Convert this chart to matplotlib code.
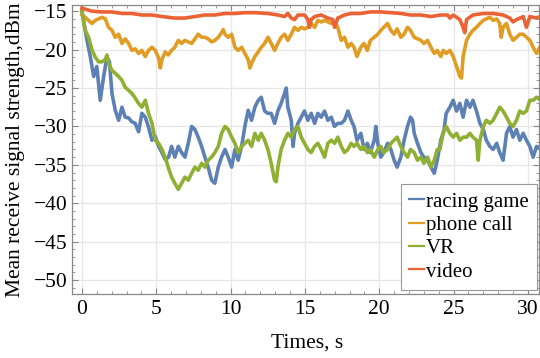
import numpy as np
import matplotlib
matplotlib.use('Agg')
import matplotlib.pyplot as plt
from matplotlib.ticker import MultipleLocator

plt.rcParams['font.family'] = ['Liberation Serif', 'DejaVu Serif']

# values (time in s, level in dBm)
racing_t = [0, 0.1, 0.34, 0.56, 0.79, 1.0, 1.23, 1.46, 1.68, 1.85, 2.02, 2.24, 2.47, 2.69, 2.91, 3.14, 3.36, 3.58, 3.81, 4.03,
            4.26, 4.48, 4.71, 4.93, 5.16, 5.38, 5.6, 5.83, 6.03, 6.25, 6.48, 6.7, 6.93, 7.15, 7.38, 7.6, 7.82, 8.05, 8.27, 8.49,
            8.72, 8.94, 9.17, 9.39, 9.62, 9.84, 10.07, 10.29, 10.51, 10.74, 10.96, 11.18, 11.41, 11.63, 11.86, 12.06, 12.29, 12.51, 12.73, 12.96,
            13.18, 13.4, 13.63, 13.74, 13.85, 14.08, 14.2, 14.3, 14.53, 14.75, 14.97, 15.2, 15.42, 15.65, 15.87, 16.09, 16.32, 16.54, 16.77, 16.99,
            17.21, 17.44, 17.66, 17.89, 18.11, 18.3, 18.5, 18.76, 18.98, 19.2, 19.4, 19.66, 19.77, 19.9, 20.1, 20.3, 20.56, 20.78, 21.0, 21.2,
            21.45, 21.67, 21.9, 22.1, 22.24, 22.35, 22.57, 22.8, 23.0, 23.25, 23.47, 23.7, 23.9, 24.14, 24.36, 24.5, 24.75, 24.97, 25.2, 25.42,
            25.64, 25.87, 26.1, 26.3, 26.54, 26.77, 27.0, 27.2, 27.44, 27.66, 27.9, 28.1, 28.33, 28.56, 28.78, 29.0, 29.23, 29.45, 29.68, 29.9,
            30.13, 30.35, 30.58, 30.8]
racing = [-15.0, -16.2, -18.8, -20.9, -23.5, -22.2, -26.6, -23.5, -21.0, -21.6, -25.7, -27.9, -29.2, -27.5, -28.8, -28.9, -29.4, -29.6, -30.7, -28.3,
          -28.8, -30.1, -31.8, -31.3, -32.6, -33.4, -34.3, -34.0, -32.6, -34.0, -32.6, -33.4, -34.0, -32.2, -30.0, -30.4, -31.4, -32.6, -34.0, -35.3,
          -37.0, -37.4, -35.3, -34.0, -33.0, -34.0, -35.3, -33.0, -34.4, -32.6, -30.0, -27.9, -29.2, -27.5, -26.6, -26.2, -28.0, -28.3, -28.3, -29.6,
          -28.0, -27.0, -25.7, -25.0, -27.5, -29.2, -32.6, -30.9, -29.6, -28.8, -28.0, -29.2, -28.3, -29.6, -28.3, -28.8, -28.0, -29.2, -28.8, -30.0,
          -29.6, -29.6, -29.2, -28.0, -29.2, -30.0, -31.8, -30.9, -33.0, -32.2, -33.4, -31.8, -30.0, -32.2, -34.0, -33.4, -32.2, -33.0, -34.4, -35.3,
          -34.0, -31.8, -30.0, -28.8, -29.2, -30.9, -32.2, -33.4, -34.0, -34.4, -35.3, -36.1, -34.4, -31.8, -30.4, -28.3, -27.5, -26.6, -28.0, -27.0,
          -28.8, -26.6, -27.5, -26.6, -28.0, -29.6, -30.4, -31.8, -32.6, -33.0, -32.2, -33.4, -34.4, -30.9, -30.0, -31.4, -30.4, -31.8, -30.9, -31.8,
          -32.6, -34.0, -32.6, -32.8]

phone_t = [0, 0.22, 0.45, 0.67, 0.9, 1.12, 1.34, 1.57, 1.79, 2.02, 2.24, 2.47, 2.69, 2.91, 3.14, 3.36, 3.58, 3.81, 4.03, 4.26,
           4.48, 4.71, 4.93, 5.16, 5.27, 5.38, 5.6, 5.8, 6.03, 6.25, 6.48, 6.7, 6.93, 7.15, 7.38, 7.6, 7.82, 8.05, 8.27, 8.49,
           8.72, 8.94, 9.17, 9.39, 9.5, 9.62, 9.84, 10.07, 10.29, 10.51, 10.74, 10.96, 11.18, 11.3, 11.41, 11.63, 11.86, 12.06, 12.29, 12.51,
           12.73, 12.96, 13.18, 13.4, 13.63, 13.85, 14.08, 14.3, 14.53, 14.75, 14.97, 15.2, 15.42, 15.65, 15.87, 16.09, 16.32, 16.54, 16.77, 16.99,
           17.21, 17.44, 17.66, 17.89, 18.11, 18.3, 18.5, 18.76, 18.98, 19.2, 19.4, 19.66, 19.9, 20.1, 20.3, 20.56, 20.78, 21.0, 21.2, 21.45,
           21.67, 21.9, 22.1, 22.35, 22.57, 22.8, 23.0, 23.25, 23.47, 23.7, 23.9, 24.14, 24.3, 24.5, 24.75, 24.97, 25.2, 25.42, 25.53, 25.64,
           25.87, 26.1, 26.3, 26.54, 26.77, 27.0, 27.2, 27.44, 27.66, 27.9, 28.1, 28.2, 28.33, 28.56, 28.78, 29.0, 29.23, 29.45, 29.68, 29.9,
           30.13, 30.35, 30.58, 30.8]
phone = [-15.5, -15.8, -16.2, -16.6, -16.2, -16.0, -15.8, -16.0, -17.1, -17.5, -18.4, -18.0, -19.2, -18.6, -19.2, -20.1, -19.9, -20.5, -20.1, -20.9,
         -20.1, -19.7, -20.1, -21.1, -22.4, -21.3, -20.3, -20.7, -20.1, -19.7, -18.8, -19.2, -18.8, -19.0, -19.2, -18.6, -18.0, -18.4, -18.4, -18.6,
         -19.0, -18.8, -18.4, -17.8, -17.4, -18.0, -18.4, -18.0, -19.7, -20.1, -19.7, -20.5, -21.3, -22.4, -21.8, -20.9, -20.3, -19.7, -19.2, -18.4,
         -19.2, -20.1, -19.2, -18.4, -18.0, -18.8, -18.0, -17.1, -17.5, -17.1, -17.3, -17.1, -16.6, -17.1, -16.2, -16.4, -16.2, -16.4, -16.6, -16.4,
         -17.1, -18.8, -18.4, -19.7, -19.2, -19.7, -20.9, -19.7, -19.2, -20.1, -18.8, -18.4, -18.0, -17.5, -17.1, -16.6, -17.5, -18.0, -17.3, -18.4,
         -18.0, -17.1, -17.5, -18.4, -18.6, -18.8, -19.2, -18.8, -19.7, -20.5, -20.1, -20.9, -20.1, -20.5, -20.1, -20.9, -22.2, -23.5, -23.7, -20.9,
         -18.8, -18.0, -17.5, -17.1, -16.6, -16.2, -16.0, -15.8, -16.2, -16.0, -16.6, -18.4, -17.1, -16.6, -18.0, -18.8, -18.4, -18.0, -18.0, -18.4,
         -18.8, -19.7, -20.5, -19.7]

vr_t = [0, 0.11, 0.22, 0.45, 0.67, 0.9, 1.12, 1.34, 1.57, 1.68, 1.79, 2.02, 2.24, 2.47, 2.69, 2.91, 3.14, 3.36, 3.58, 3.81,
        4.03, 4.26, 4.48, 4.71, 4.93, 5.16, 5.38, 5.6, 5.8, 6.03, 6.25, 6.48, 6.7, 6.93, 7.15, 7.38, 7.6, 7.82, 8.05, 8.27,
        8.49, 8.72, 8.94, 9.17, 9.39, 9.62, 9.84, 10.07, 10.29, 10.51, 10.74, 10.96, 11.18, 11.41, 11.63, 11.86, 12.06, 12.29, 12.51, 12.73,
        12.96, 13.07, 13.18, 13.4, 13.63, 13.85, 14.08, 14.3, 14.53, 14.75, 14.97, 15.2, 15.42, 15.65, 15.87, 16.09, 16.32, 16.54, 16.77, 16.99,
        17.21, 17.44, 17.66, 17.89, 18.11, 18.3, 18.5, 18.76, 18.98, 19.2, 19.4, 19.66, 19.9, 20.1, 20.3, 20.56, 20.78, 21.0, 21.2, 21.45,
        21.67, 21.9, 22.1, 22.35, 22.57, 22.8, 23.0, 23.25, 23.47, 23.7, 23.9, 24.07, 24.3, 24.5, 24.75, 24.97, 25.2, 25.42, 25.64, 25.87,
        26.1, 26.3, 26.54, 26.65, 26.77, 27.0, 27.2, 27.44, 27.66, 27.9, 28.1, 28.33, 28.56, 28.78, 29.0, 29.23, 29.45, 29.68, 29.9, 30.13,
        30.35, 30.58, 30.8]
vr = [-15.0, -16.2, -17.5, -18.4, -20.0, -21.0, -21.6, -21.6, -21.3, -20.7, -21.8, -22.7, -23.1, -23.5, -24.0, -24.9, -25.3, -25.7, -26.3, -27.0,
      -27.5, -26.6, -28.3, -29.6, -31.8, -32.2, -33.0, -34.0, -35.3, -36.6, -37.4, -38.2, -37.4, -36.6, -37.0, -36.1, -35.3, -35.7, -34.8, -35.3,
      -34.4, -34.0, -33.4, -32.6, -30.9, -30.0, -30.4, -31.4, -32.2, -33.4, -32.6, -32.2, -31.8, -32.6, -30.9, -31.8, -30.9, -31.8, -33.0, -34.8,
      -37.0, -37.2, -35.3, -33.0, -31.8, -30.9, -31.4, -30.4, -30.0, -31.4, -32.2, -33.0, -33.4, -32.6, -32.2, -33.0, -34.0, -32.2, -31.8, -32.2,
      -31.4, -32.6, -33.4, -33.0, -32.2, -32.6, -32.2, -33.0, -32.6, -33.4, -33.0, -34.0, -33.0, -32.6, -33.4, -33.0, -32.2, -31.8, -31.4, -32.6,
      -33.4, -34.0, -33.0, -33.4, -34.4, -34.0, -34.8, -34.0, -35.3, -34.4, -33.0, -33.0, -30.9, -30.0, -30.9, -31.4, -30.9, -31.8, -31.4, -31.4,
      -30.9, -31.4, -31.8, -34.4, -31.8, -30.0, -29.2, -29.6, -29.2, -28.3, -27.5, -28.0, -28.8, -29.6, -30.0, -29.2, -28.0, -28.3, -28.0, -26.6,
      -26.6, -26.2, -26.5]

video_t = [0, 0.67, 1.34, 2.02, 2.69, 3.36, 4.03, 4.71, 5.38, 6.25, 6.93, 7.6, 8.27, 8.94, 9.62, 10.29, 10.96, 11.63, 12.51, 13.18,
           13.63, 13.85, 14.08, 14.3, 14.53, 14.97, 15.2, 15.3, 15.42, 15.65, 16.09, 16.54, 16.88, 16.99, 17.21, 17.66, 18.11, 18.76, 19.4, 20.1,
           20.78, 21.45, 22.1, 22.8, 23.47, 24.14, 24.6, 24.75, 24.97, 25.42, 25.64, 25.75, 25.87, 26.3, 27.0, 27.66, 28.33, 28.78, 29.0, 29.23,
           29.68, 29.9, 30.13, 30.58, 30.8]
video = [-14.6, -15.0, -15.1, -15.1, -15.3, -15.3, -15.5, -15.5, -15.7, -15.9, -15.9, -15.7, -15.5, -15.5, -15.3, -15.3, -15.2, -15.2, -15.3, -15.5,
         -15.7, -15.3, -15.9, -16.1, -15.5, -15.5, -16.1, -17.1, -16.1, -15.7, -15.5, -15.9, -16.1, -17.1, -15.9, -15.5, -15.3, -15.3, -15.1, -15.1,
         -15.2, -15.3, -15.5, -15.5, -15.7, -15.5, -15.5, -15.9, -15.5, -16.1, -17.1, -17.8, -16.1, -15.5, -15.3, -15.3, -15.5, -15.9, -16.4, -16.1,
         -15.7, -17.1, -15.7, -15.9, -15.7]

labels = ['racing game', 'phone call', 'VR', 'video']
colors = ['#5E81B5', '#E19C24', '#8FB032', '#EB6235']

fig = plt.figure(figsize=(5.4, 3.58), dpi=100)
ax = fig.add_axes([0.1333, 0.179, 0.865, 0.807])

series = [(racing_t, racing), (phone_t, phone), (vr_t, vr), (video_t, video)]
for (t, y), lab, c in zip(series, labels, colors):
    ax.plot(t, y, color=c, lw=2.6, label=lab)

ax.set_xlim(-0.67, 30.75)
ax.set_ylim(-51.8, -14.2)
ax.xaxis.set_major_locator(MultipleLocator(5))
ax.xaxis.set_minor_locator(MultipleLocator(1))
ax.yaxis.set_major_locator(MultipleLocator(5))
ax.yaxis.set_minor_locator(MultipleLocator(1))
ax.grid(True, which='major', color='#e6e6e6', lw=0.9)
ax.set_axisbelow(True)

for s in ax.spines.values():
    s.set_color('#888888')
    s.set_linewidth(0.9)
ax.tick_params(which='both', direction='in', top=True, right=True, color='#888888', labelsize=15.5)
ax.tick_params(which='major', length=4.5, width=0.8)
ax.tick_params(axis='x', which='major', pad=4.5)
ax.tick_params(axis='y', which='major', pad=3)
ax.tick_params(which='minor', length=2.3, width=0.6)

ax.set_xlabel('Times, s', fontsize=15.5)
ax.set_ylabel('Mean receive signal strength,dBm', fontsize=15.5)
ax.xaxis.set_label_coords(0.503, -0.138)
ax.yaxis.set_label_coords(-0.101, 0.5)

leg = ax.legend(loc='lower right', bbox_to_anchor=(0.996, 0.014), borderaxespad=0, fontsize=15,
                handlelength=0.72, handletextpad=0.1, labelspacing=0.18, borderpad=0.4,
                fancybox=False, framealpha=1, edgecolor='#999999')
leg.get_frame().set_linewidth(0.8)
for h in leg.get_lines():
    h.set_linewidth(1.6)

fig.savefig('out.png', dpi=100)
